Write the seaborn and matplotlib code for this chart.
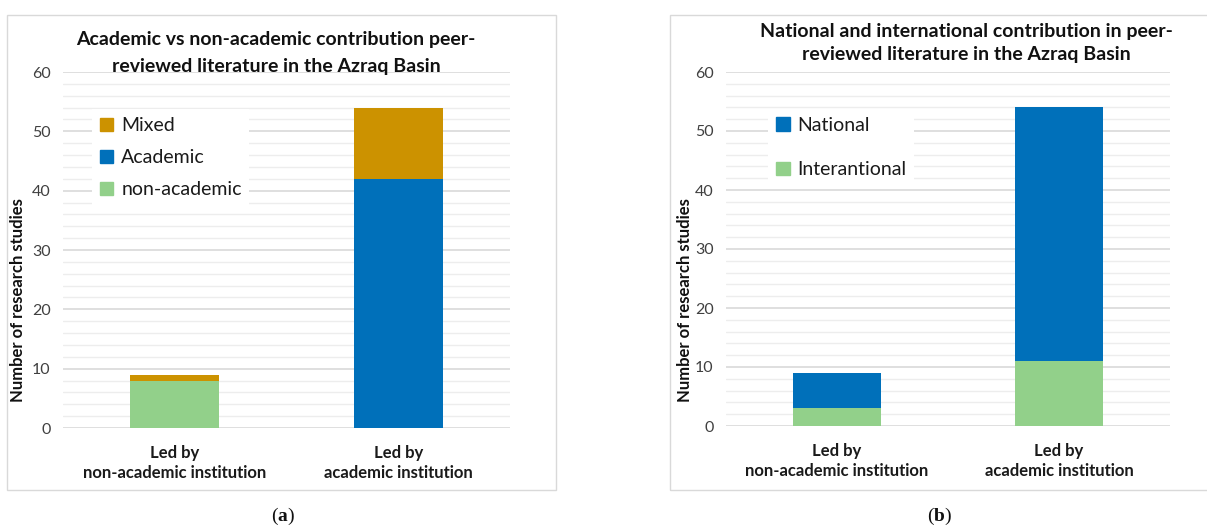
import matplotlib
matplotlib.use("Agg")
import matplotlib.pyplot as plt
from matplotlib.patches import Rectangle, Patch
import numpy as np
import pandas as pd
import seaborn as sns

# --- data -------------------------------------------------------------
categories = ["Led by\nnon-academic institution", "Led by\nacademic institution"]

# panel (a): who contributed
non_academic = [8, 0]
academic = [0, 42]
mixed = [1, 12]

# panel (b): national vs international
international = [3, 11]
national = [6, 43]

title_a = "Academic vs non-academic contribution peer-\nreviewed literature in the Azraq Basin"
title_b = "National and international contribution in peer-\nreviewed literature in the Azraq Basin"
ylabel = "Number of research studies"

C_MIXED = "#CC9200"
C_BLUE = "#0070BA"
C_GREEN = "#92D08A"

sns.set_theme(style="white")
plt.rcParams["font.family"] = ["Lato", "DejaVu Sans"]
plt.rcParams["mathtext.fontset"] = "custom"
plt.rcParams["mathtext.bf"] = "Liberation Serif:bold"

W, H = 1207, 527
fig = plt.figure(figsize=(W / 100, H / 100), dpi=100)


def px_axes(x0, x1, y_top, y_bottom):
    return fig.add_axes([x0 / W, (H - y_bottom) / H, (x1 - x0) / W, (y_bottom - y_top) / H])


def panel_frame(x0, y0, x1, y1):
    fig.patches.append(Rectangle((x0 / W, (H - y1) / H), (x1 - x0) / W, (y1 - y0) / H,
                                 transform=fig.transFigure, fill=False,
                                 edgecolor="#D9D9D9", linewidth=1.0, zorder=0))


def stacked(ax, layers, colors):
    # draw cumulative totals back-to-front so each segment shows its own share
    cum = np.cumsum(np.array(layers, dtype=float), axis=0)
    for i in range(len(layers) - 1, -1, -1):
        df = pd.DataFrame({"cat": categories, "val": cum[i]})
        sns.barplot(data=df, x="cat", y="val", color=colors[i], width=0.4,
                    saturation=1, linewidth=0, ax=ax, zorder=3)


def style_axes(ax):
    ax.set_xlim(-0.5, 1.5)
    ax.set_ylim(0, 60)
    ax.set_yticks(np.arange(0, 61, 10))
    ax.set_yticks(np.arange(0, 61, 2), minor=True)
    ax.grid(axis="y", which="major", color="#D9D9D9", linewidth=1.2, zorder=0)
    ax.grid(axis="y", which="minor", color="#EDEDED", linewidth=1.0, zorder=0)
    ax.set_axisbelow(True)
    for s in ax.spines.values():
        s.set_visible(False)
    ax.tick_params(axis="y", which="both", length=0, labelsize=11.5, colors="#404040", pad=9)
    ax.tick_params(axis="x", length=0, pad=12)
    for lab in ax.get_xticklabels():
        lab.set_fontweight("bold")
        lab.set_fontsize(12)
        lab.set_color("#1a1a1a")
        lab.set_linespacing(1.35)
    ax.set_xlabel("")
    ax.set_ylabel("")
    ax.patch.set_alpha(0)


# ---------------- panel (a) ----------------
panel_frame(7, 15, 556, 490)
ax1 = px_axes(63, 510, 72, 428)
stacked(ax1, [non_academic, academic, mixed], [C_GREEN, C_BLUE, C_MIXED])
style_axes(ax1)
h1 = [Patch(color=C_MIXED), Patch(color=C_BLUE), Patch(color=C_GREEN)]
leg1 = ax1.legend(h1, ["Mixed", "Academic", "non-academic"], loc="upper left",
                  bbox_to_anchor=(0.065, 0.895), frameon=True, facecolor="white",
                  edgecolor="none", framealpha=1, fancybox=False, fontsize=14,
                  handlelength=0.7, handleheight=0.7, handletextpad=0.4,
                  labelspacing=0.78, borderpad=0.4, borderaxespad=0)
for t in leg1.get_texts():
    t.set_color("#1a1a1a")
fig.text(276 / W, 1 - 53 / H, title_a, ha="center", va="center", fontsize=14,
         fontweight="bold", linespacing=1.65, color="#111111")
fig.text(18 / W, 1 - 300 / H, ylabel, rotation=90, ha="center", va="center",
         fontsize=12, fontweight="bold", color="#111111")

# ---------------- panel (b) ----------------
panel_frame(670, 15, 1215, 490)
ax2 = px_axes(726, 1170, 72, 426)
stacked(ax2, [international, national], [C_GREEN, C_BLUE])
style_axes(ax2)
h2 = [Patch(color=C_BLUE), Patch(color=C_GREEN)]
leg2 = ax2.legend(h2, ["National", "Interantional"], loc="upper left",
                  bbox_to_anchor=(0.095, 0.895), frameon=True, facecolor="white",
                  edgecolor="none", framealpha=1, fancybox=False, fontsize=14,
                  handlelength=0.7, handleheight=0.7, handletextpad=0.4,
                  labelspacing=1.4, borderpad=0.4, borderaxespad=0)
for t in leg2.get_texts():
    t.set_color("#1a1a1a")
fig.text(966 / W, 1 - 43 / H, title_b, ha="center", va="center", fontsize=14,
         fontweight="bold", linespacing=1.45, color="#111111")
fig.text(685 / W, 1 - 300 / H, ylabel, rotation=90, ha="center", va="center",
         fontsize=12, fontweight="bold", color="#111111")

# ---------------- sub-figure captions ----------------
for x, letter in [(283, "a"), (940, "b")]:
    fig.text(x / W, 1 - 516 / H, "(" + r"$\mathbf{" + letter + "}$" + ")", ha="center",
             va="center", fontsize=14, family="Liberation Serif", color="#111111")

fig.savefig("out.png", dpi=100)
